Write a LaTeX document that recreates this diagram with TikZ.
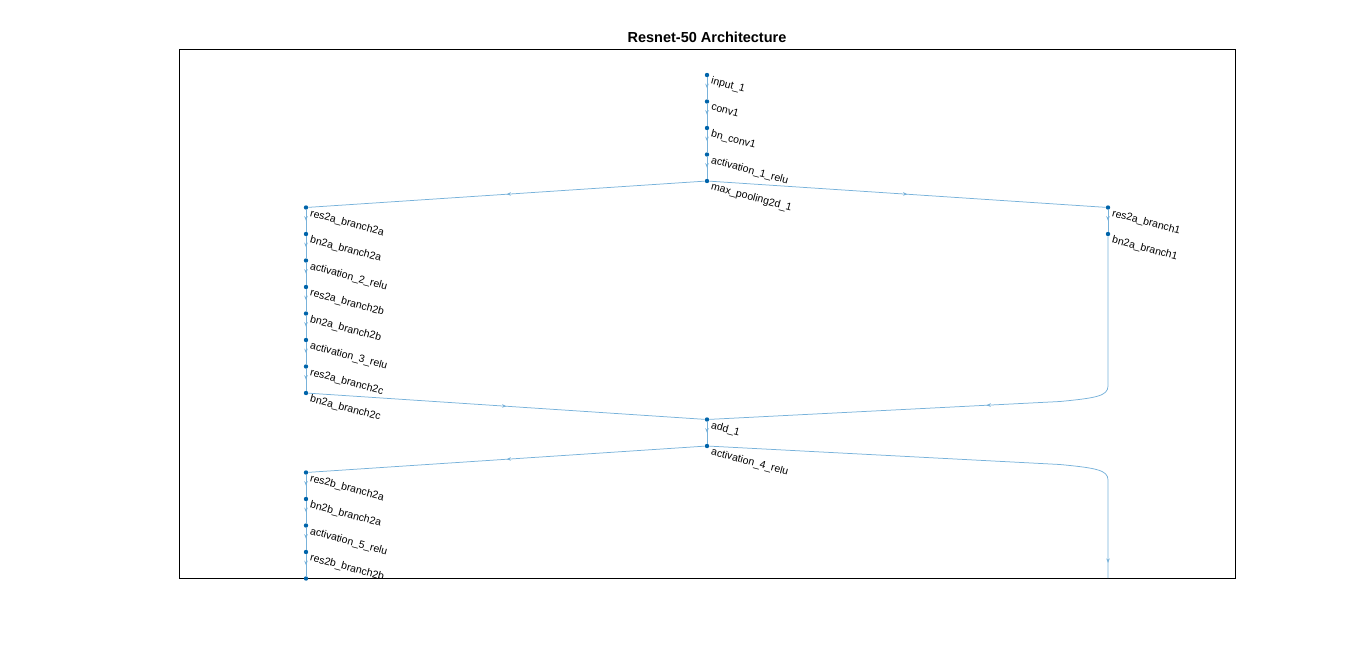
\documentclass[tikz,border=0pt]{standalone}
\usepackage{fontspec}
\setmainfont{Liberation Sans}
\usetikzlibrary{decorations.markings,arrows.meta}
\definecolor{edgeblue}{RGB}{120,178,218}
\definecolor{nodeblue}{RGB}{0,100,170}
\newcommand\layer[4]{\node[lay] (#1) at (#2,#3) {};\node[lbl] (#1-t) at (#2+5.5,#3+1) {#4};}
\begin{document}
\begin{tikzpicture}[x=1pt,y=-1pt,
  lay/.style={circle,fill=nodeblue,inner sep=0pt,minimum size=4.4pt},
  lbl/.style={font=\fontsize{10.5}{12}\selectfont,anchor=north west,rotate=-15,inner sep=0pt},
  conn/.style={draw=edgeblue,line width=0.75pt,postaction={decorate},
    decoration={markings,mark=at position #1 with {\arrow{Stealth[length=4.5pt,width=3.5pt]}}}},
  conn/.default=0.5]
\useasboundingbox (0,0) rectangle (1366,651);
\node[font=\bfseries\fontsize{14.5}{16}\selectfont] (title) at (707,37) {Resnet-50 Architecture};
\draw[black,line width=0.6pt] (179,49) rectangle (1235,578);
% centre column
\layer{in1}{707}{75}{input\_1}
\layer{conv1}{707}{101.5}{conv1}
\layer{bnconv1}{707}{128}{bn\_conv1}
\layer{act1}{707}{154.5}{activation\_1\_relu}
\layer{pool1}{707}{181}{max\_pooling2d\_1}
% left column
\layer{r2a2a}{306}{207.5}{res2a\_branch2a}
\layer{b2a2a}{306}{234}{bn2a\_branch2a}
\layer{act2}{306}{260.5}{activation\_2\_relu}
\layer{r2a2b}{306}{287}{res2a\_branch2b}
\layer{b2a2b}{306}{313.5}{bn2a\_branch2b}
\layer{act3}{306}{340}{activation\_3\_relu}
\layer{r2a2c}{306}{366.5}{res2a\_branch2c}
\layer{b2a2c}{306}{393}{bn2a\_branch2c}
% right column
\layer{r2a1}{1108}{207.5}{res2a\_branch1}
\layer{b2a1}{1108}{234}{bn2a\_branch1}
% centre again
\layer{add1}{707}{419.5}{add\_1}
\layer{act4}{707}{446}{activation\_4\_relu}
% left second block
\layer{r2b2a}{306}{472.5}{res2b\_branch2a}
\layer{b2b2a}{306}{499}{bn2b\_branch2a}
\layer{act5}{306}{525.5}{activation\_5\_relu}
\layer{r2b2b}{306}{552}{res2b\_branch2b}
\node[lay] (b2b2b) at (306,578.5) {};
\coordinate (down) at (1108,578);
% edges
\draw[conn] (in1) -- (conv1);
\draw[conn] (conv1) -- (bnconv1);
\draw[conn] (bnconv1) -- (act1);
\draw[conn] (act1) -- (pool1);
\draw[conn] (pool1) -- (r2a2a);
\draw[conn] (pool1) -- (r2a1);
\draw[conn] (r2a2a) -- (b2a2a);
\draw[conn] (b2a2a) -- (act2);
\draw[conn] (act2) -- (r2a2b);
\draw[conn] (r2a2b) -- (b2a2b);
\draw[conn] (b2a2b) -- (act3);
\draw[conn] (act3) -- (r2a2c);
\draw[conn] (r2a2c) -- (b2a2c);
\draw[conn] (r2a1) -- (b2a1);
\draw[conn] (b2a1) -- (1108,386) .. controls (1108,396) and (1096,398) .. (1060,401.5) -- (add1);
\draw[conn] (b2a2c) -- (add1);
\draw[conn] (add1) -- (act4);
\draw[conn] (act4) -- (r2b2a);
\draw[conn=0.97] (act4) -- (1060,464.5) .. controls (1096,468) and (1108,470) .. (1108,480) -- (down);
\draw[conn] (r2b2a) -- (b2b2a);
\draw[conn] (b2b2a) -- (act5);
\draw[conn] (act5) -- (r2b2b);
\draw[conn] (r2b2b) -- (b2b2b);
\end{tikzpicture}
\end{document}
